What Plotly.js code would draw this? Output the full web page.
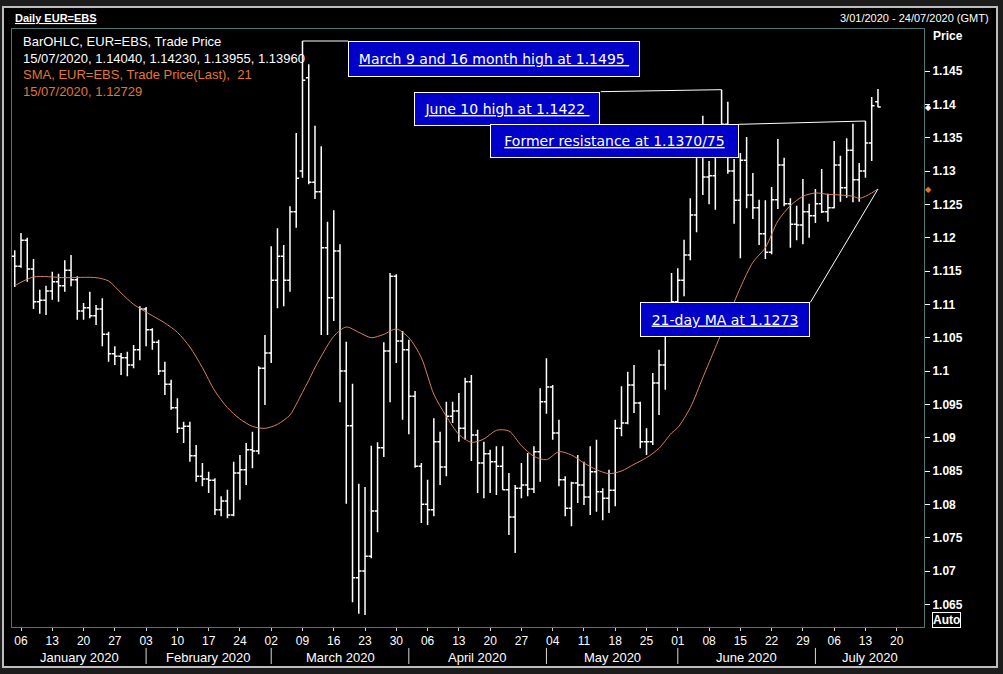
<!DOCTYPE html>
<html><head><meta charset="utf-8">
<script src="https://cdn.plot.ly/plotly-3.0.1.min.js"></script>
<style>
html,body{margin:0;padding:0;background:#1c1c1c;width:1003px;height:674px;overflow:hidden;}
#chart{position:absolute;left:4px;top:8px;width:992px;height:658px;outline:2px solid #bdbdbd;background:#000;}
</style></head><body><div id="chart"></div>
<script>
// ---------------- data ----------------
const firstTradingDay = '2020-01-03';
const opens = [1.1172,1.1157,1.1196,1.1153,1.1104,1.1106,1.1120,1.1134,1.1128,1.1151,1.1137,1.1090,1.1095,1.1083,1.1093,1.1055,1.1026,1.1022,1.1020,1.1009,1.1032,
1.1093,1.1062,1.1043,1.1000,1.0980,1.0945,1.0914,1.0917,1.0873,1.0842,1.0838,1.0836,1.0792,1.0805,1.0784,1.0847,1.0852,1.0882,1.0880,1.1004,
1.1027,1.1136,1.1172,1.1136,1.1239,1.1300,1.1440,1.1283,1.1269,1.1185,1.1110,1.1180,1.1000,1.0918,1.0690,1.0700,1.0722,1.0790,1.0885,1.1030,1.1142,1.1045,
1.1032,1.0962,1.0857,1.0800,1.0792,1.0894,1.0856,1.0932,1.0940,1.0914,1.0984,1.0904,1.0862,1.0876,1.0864,1.0857,1.0822,1.0781,1.0824,1.0829,1.0823,1.0879,
1.0954,1.0976,1.0907,1.0837,1.0794,1.0832,1.0829,1.0811,1.0849,1.0819,1.0809,1.0821,1.0914,1.0922,1.0979,1.0952,1.0894,1.0894,1.0982,1.1009,1.1076,
1.1104,1.1136,1.1174,1.1234,1.1336,1.1291,1.1293,1.1342,1.1370,1.1300,1.1256,1.1316,1.1264,1.1245,1.1206,1.1178,1.1257,1.1309,1.1251,1.1220,1.1219,1.1239,
1.1233,1.1251,1.1239,1.1245,1.1309,1.1275,1.1331,1.1287,1.1300,1.1342,1.1404];
const highs = [1.1181,1.1207,1.1200,1.1168,1.1122,1.1128,1.1149,1.1146,1.1166,1.1174,1.1142,1.1102,1.1119,1.1099,1.1109,1.1059,1.1037,1.1027,1.1029,1.1039,1.1097,
1.1096,1.1064,1.1047,1.1014,1.0987,1.0959,1.0924,1.0924,1.0889,1.0862,1.0849,1.0839,1.0812,1.0822,1.0864,1.0874,1.0892,1.0909,1.1007,1.1054,
1.1187,1.1214,1.1189,1.1247,1.1357,1.1495,1.1460,1.1368,1.1337,1.1224,1.1241,1.1190,1.1044,1.0981,1.0831,1.0826,1.0888,1.0893,1.1043,1.1147,1.1145,1.1060,
1.1047,1.0970,1.0862,1.0837,1.0929,1.0909,1.0954,1.0954,1.0967,1.0990,1.0994,1.0912,1.0894,1.0882,1.0887,1.0887,1.0847,1.0829,1.0862,1.0877,1.0887,1.0974,
1.1019,1.0979,1.0927,1.0842,1.0834,1.0874,1.0864,1.0887,1.0897,1.0824,1.0852,1.0927,1.0977,1.0999,1.1009,1.0954,1.0914,1.0997,1.1032,1.1093,1.1147,
1.1154,1.1197,1.1259,1.1362,1.1383,1.1315,1.1349,1.1422,1.1404,1.1318,1.1327,1.1351,1.1297,1.1257,1.1256,1.1276,1.1348,1.1320,1.1259,1.1248,1.1288,1.1251,
1.1273,1.1303,1.1266,1.1345,1.1323,1.1349,1.1371,1.1312,1.1375,1.1411,1.1423];
const lows = [1.1126,1.1155,1.1134,1.1093,1.1086,1.1084,1.1107,1.1104,1.1119,1.1127,1.1077,1.1077,1.1079,1.1069,1.1037,1.1014,1.1009,1.0994,1.0992,1.1004,1.1016,
1.1037,1.1032,1.0994,1.0964,1.0942,1.0907,1.0892,1.0864,1.0834,1.0827,1.0817,1.0784,1.0782,1.0779,1.0782,1.0807,1.0829,1.0854,1.0875,1.0949,
1.1012,1.1094,1.1097,1.1119,1.1215,1.1290,1.1280,1.1258,1.1054,1.1054,1.1075,1.0953,1.0801,1.0653,1.0636,1.0634,1.0719,1.0758,1.0871,1.0953,1.1012,1.0927,
1.0905,1.0855,1.0772,1.0769,1.0782,1.0829,1.0842,1.0922,1.0894,1.0897,1.0865,1.0817,1.0809,1.0817,1.0814,1.0822,1.0754,1.0727,1.0809,1.0812,1.0817,1.0834,
1.0936,1.0897,1.0827,1.0782,1.0767,1.0802,1.0799,1.0784,1.0789,1.0776,1.0787,1.0797,1.0902,1.0920,1.0937,1.0884,1.0874,1.0889,1.0934,1.0972,1.1060,
1.1092,1.1112,1.1166,1.1208,1.1264,1.1250,1.1242,1.1335,1.1296,1.1221,1.1169,1.1244,1.1228,1.1189,1.1168,1.1175,1.1243,1.1247,1.1185,1.1196,1.1190,1.1200,
1.1222,1.1237,1.1224,1.1244,1.1254,1.1260,1.1253,1.1254,1.1290,1.1315,1.13955];
const closes = [1.1157,1.1196,1.1153,1.1104,1.1106,1.1120,1.1134,1.1128,1.1151,1.1137,1.1090,1.1095,1.1083,1.1093,1.1055,1.1026,1.1022,1.1020,1.1009,1.1032,1.1093,
1.1062,1.1043,1.1000,1.0980,1.0945,1.0914,1.0917,1.0873,1.0842,1.0838,1.0836,1.0792,1.0805,1.0784,1.0847,1.0852,1.0882,1.0880,1.1004,1.1027,
1.1136,1.1172,1.1136,1.1239,1.1289,1.1436,1.1283,1.1269,1.1185,1.1110,1.1180,1.1000,1.0918,1.0690,1.0700,1.0722,1.0790,1.0885,1.1030,1.1142,1.1045,1.1032,
1.0962,1.0857,1.0800,1.0792,1.0894,1.0856,1.0932,1.0940,1.0914,1.0984,1.0904,1.0862,1.0876,1.0864,1.0857,1.0822,1.0781,1.0824,1.0829,1.0823,1.0879,1.0954,
1.0976,1.0907,1.0837,1.0794,1.0832,1.0829,1.0811,1.0849,1.0819,1.0809,1.0821,1.0914,1.0922,1.0979,1.0952,1.0894,1.0894,1.0982,1.1009,1.1076,1.1104,
1.1136,1.1174,1.1234,1.1336,1.1291,1.1293,1.1342,1.1370,1.1300,1.1256,1.1316,1.1264,1.1245,1.1206,1.1178,1.1257,1.1309,1.1251,1.1220,1.1219,1.1239,1.1233,
1.1251,1.1239,1.1245,1.1309,1.1275,1.1331,1.1287,1.1300,1.1342,1.1398,1.1396];

// 21-day SMA
const smaDates = ['2020-01-03','2020-01-08','2020-01-15','2020-01-22','2020-01-24','2020-01-28','2020-01-30','2020-02-04','2020-02-06','2020-02-10',
'2020-02-12','2020-02-14','2020-02-18','2020-02-20','2020-02-24','2020-02-26','2020-02-28','2020-03-03','2020-03-05','2020-03-06','2020-03-09','2020-03-10',
'2020-03-11','2020-03-12','2020-03-16','2020-03-18','2020-03-20','2020-03-24','2020-03-26','2020-03-30','2020-04-01','2020-04-03','2020-04-07','2020-04-09',
'2020-04-13','2020-04-15','2020-04-17','2020-04-21','2020-04-23','2020-04-27','2020-04-29','2020-05-01','2020-05-05','2020-05-07','2020-05-11',
'2020-05-13','2020-05-15','2020-05-19','2020-05-21','2020-05-25','2020-05-27','2020-05-29','2020-06-01','2020-06-03','2020-06-05','2020-06-09',
'2020-06-11','2020-06-15','2020-06-17','2020-06-19','2020-06-23','2020-06-25','2020-06-29','2020-07-01','2020-07-03','2020-07-07','2020-07-09',
'2020-07-10','2020-07-13','2020-07-14','2020-07-15'];
const smaValues = [1.1128,1.1141,1.1140,1.1140,1.1135,1.1117,1.1100,1.1083,1.1072,1.1058,
1.1036,1.1005,1.0970,1.0945,1.0928,1.0917,1.0914,1.0920,1.0934,1.0950,1.0968,1.0986,
1.1005,1.1022,1.1052,1.1066,1.1058,1.1050,1.1055,1.1063,1.1050,1.1020,1.0965,1.0932,
1.0905,1.0893,1.0898,1.0911,1.0910,1.0888,1.0872,1.0867,1.0879,1.0874,1.0862,
1.0852,1.0846,1.0850,1.0860,1.0870,1.0884,1.0907,1.0915,1.0945,1.0990,1.1035,
1.1080,1.1125,1.1163,1.1185,1.1225,1.1248,1.1262,1.1267,1.1265,1.1264,1.1262,
1.1259,1.1262,1.1267,1.12729];

const yTickValues = [1.065,1.07,1.075,1.08,1.085,1.09,1.095,1.1,1.105,1.11,1.115,1.12,1.125,1.13,1.135,1.14,1.145];
const yTickLabels = ['1.065','1.07','1.075','1.08','1.085','1.09','1.095','1.1','1.105','1.11','1.115','1.12','1.125','1.13','1.135','1.14','1.145'];
const monthLabels = ['January 2020','February 2020','March 2020','April 2020','May 2020','June 2020','July 2020'];
const legendLines = ['BarOHLC, EUR=EBS, Trade Price',
  '15/07/2020, 1.14040, 1.14230, 1.13955, 1.13960',
  'SMA, EUR=EBS, Trade Price(Last),  21',
  '15/07/2020, 1.12729'];
const callouts = ['March 9 and 16 month high at 1.1495\u00a0','June 10 high at 1.1422\u00a0','Former resistance at 1.1370/75','21-day MA at 1.1273'];

// ---------------- calendar helpers (weekday trading days) ----------------
function buildCalendar(start, n){
  const out=[]; const d=new Date(start+'T12:00:00Z');
  while(out.length<n){ const wd=d.getUTCDay(); if(wd!==0&&wd!==6) out.push(d.toISOString().slice(0,10)+' 12:00'); d.setUTCDate(d.getUTCDate()+1); }
  return out;
}
const calendar = buildCalendar(firstTradingDay, 160);
const dates = calendar.slice(0, opens.length);
function toMs(s){ return new Date(s.replace(' ','T')+':00Z').getTime(); }
function fmt(ms){ return new Date(ms).toISOString().slice(0,19).replace('T',' '); }
function atIndex(k){ // date at a fractional trading-day index
  const j=Math.floor(k), f=k-j;
  if(j<0) return fmt(toMs(calendar[0])+k*86400000);
  return fmt(toMs(calendar[j])+f*86400000);
}
const noon = s => s+' 12:00';
const smaX = smaDates.map(noon);
const lastIdx = opens.length-1;
const leftEdge = -0.439, rightEdge = 145.36;

// month boundaries
const monthStarts = [];
for(let i=1;i<dates.length;i++){ if(dates[i].slice(5,7)!==dates[i-1].slice(5,7)) monthStarts.push(i); }
const bounds=[leftEdge].concat(monthStarts,[rightEdge]);

// Monday ticks
const tickVals=[], tickText=[];
for(let i=0;i<=rightEdge;i++){ const d=new Date(calendar[i].replace(' ','T')+':00Z'); if(d.getUTCDay()===1){ tickVals.push(calendar[i]); tickText.push(calendar[i].slice(8,10)); } }

// ---------------- traces ----------------
const traces = [
  {type:'ohlc', x:dates, open:opens, high:highs, low:lows, close:closes,
   increasing:{line:{color:'#ffffff',width:1.5}}, decreasing:{line:{color:'#ffffff',width:1.5}},
   tickwidth:0.45, showlegend:false, hoverinfo:'skip'},
  {type:'scatter', mode:'lines', x:smaX, y:smaValues, line:{color:'#d4825f',width:1,shape:'spline',smoothing:0.8},
   showlegend:false, hoverinfo:'skip'}
];

const W='#ffffff';
const annotations = [];
// header
annotations.push({xref:'paper',yref:'paper',x:0.0011,y:1.0184,xanchor:'left',yanchor:'middle',showarrow:false,
  text:'<b><u>Daily EUR=EBS</u></b>',font:{family:'Liberation Sans',size:11,color:W}});
annotations.push({xref:'paper',yref:'paper',x:1.0735,y:1.0184,xanchor:'right',yanchor:'middle',showarrow:false,
  text:'3/01/2020 - 24/07/2020 (GMT)',font:{family:'Liberation Sans',size:11,color:W}});
annotations.push({xref:'paper',yref:'paper',x:1.0077,y:0.9891,xanchor:'left',yanchor:'middle',showarrow:false,
  text:'<b>Price</b>',font:{family:'Liberation Sans',size:12,color:W}});
annotations.push({xref:'paper',yref:'paper',x:1.0088,y:0.0117,xanchor:'left',yanchor:'middle',showarrow:false,
  text:'<b>Auto</b>',font:{family:'Liberation Sans',size:12,color:W},bordercolor:W,borderwidth:1,borderpad:0});
// legend text
const legendY=[0.9799,0.9515,0.9231,0.8955];
const legendCol=[W,W,'#e07830','#e07830'];
legendLines.forEach((t,i)=>annotations.push({xref:'paper',yref:'paper',x:0.0099,y:legendY[i],xanchor:'left',yanchor:'middle',
  showarrow:false,text:t,font:{family:'Liberation Sans',size:13,color:legendCol[i]}}));
// last-value markers on the price axis
annotations.push({xref:'paper',yref:'y',x:1.0044,y:closes[lastIdx],xanchor:'center',yanchor:'middle',showarrow:false,
  text:'\u25C6',font:{family:'DejaVu Sans',size:8,color:W}});
annotations.push({xref:'paper',yref:'y',x:1.0044,y:smaValues[smaValues.length-1],xanchor:'center',yanchor:'middle',showarrow:false,
  text:'\u25C6',font:{family:'DejaVu Sans',size:8,color:'#e07830'}});
// month labels
monthLabels.forEach((m,i)=>annotations.push({xref:'x',yref:'paper',x:atIndex((bounds[i]+bounds[i+1])/2),y:-0.0505,
  xanchor:'center',yanchor:'middle',showarrow:false,text:m,font:{family:'Liberation Sans',size:13,color:W}}));
// callout boxes
const boxes=[
  {x:0.5287,y:0.9490,w:290,h:34},
  {x:0.5433,y:0.8654,w:184,h:32},
  {x:0.6601,y:0.8119,w:247,h:32},
  {x:0.7823,y:0.5134,w:168,h:33}
];
boxes.forEach((b,i)=>annotations.push({xref:'paper',yref:'paper',x:b.x,y:b.y,xanchor:'center',yanchor:'middle',showarrow:false,
  width:b.w,height:b.h,align:'center',valign:'middle',bgcolor:'#0000c8',bordercolor:W,borderwidth:1,borderpad:0,
  text:'<u>'+callouts[i]+'</u>',font:{family:'DejaVu Sans',size:14,color:W}}));

const shapes=[];
monthStarts.forEach(i=>shapes.push({type:'line',xref:'x',yref:'paper',x0:dates[i],x1:dates[i],y0:-0.035,y1:-0.062,line:{color:'#d8d8d8',width:1}}));
const lc={color:W,width:1};
shapes.push({type:'line',xref:'x',yref:'y',x0:dates[46],y0:highs[46],x1:atIndex(53.33),y1:highs[46],line:lc});
shapes.push({type:'line',xref:'x',yref:'y',x0:atIndex(93.68),y0:1.1419,x1:dates[113],y1:highs[113],line:lc});
shapes.push({type:'line',xref:'x',yref:'y',x0:atIndex(115.7),y0:1.1370,x1:dates[136],y1:highs[136],line:lc});
shapes.push({type:'line',xref:'x',yref:'y',x0:atIndex(127.2),y0:1.1103,x1:smaX[smaX.length-1],y1:smaValues[smaValues.length-1],line:lc});

const layout={
  width:992,height:658,margin:{l:8,r:72,t:21,b:39},
  paper_bgcolor:'#000000',plot_bgcolor:'#000000',
  font:{family:'Liberation Sans, Arial, sans-serif',color:W},
  showlegend:false,
  xaxis:{type:'date',range:[atIndex(leftEdge),atIndex(rightEdge)],rangebreaks:[{bounds:['sat','mon']}],
    rangeslider:{visible:false},tickmode:'array',tickvals:tickVals,ticktext:tickText,
    ticks:'outside',ticklen:3,tickcolor:'#d0d0d0',tickfont:{family:'Liberation Sans',size:12,color:W},
    showgrid:false,zeroline:false,showline:true,linecolor:'#4a7876',linewidth:1,mirror:true,fixedrange:true},
  yaxis:{side:'right',range:[1.0616,1.1513],tickmode:'array',tickvals:yTickValues,ticktext:yTickLabels,
    ticks:'outside',ticklen:5,tickcolor:W,tickfont:{family:'Liberation Sans',size:12,color:W,weight:'bold'},
    showgrid:false,zeroline:false,showline:true,linecolor:'#4a7876',linewidth:1,mirror:true,fixedrange:true},
  annotations:annotations,shapes:shapes
};
Plotly.newPlot('chart',traces,layout,{displayModeBar:false,staticPlot:true});
</script></body></html>
